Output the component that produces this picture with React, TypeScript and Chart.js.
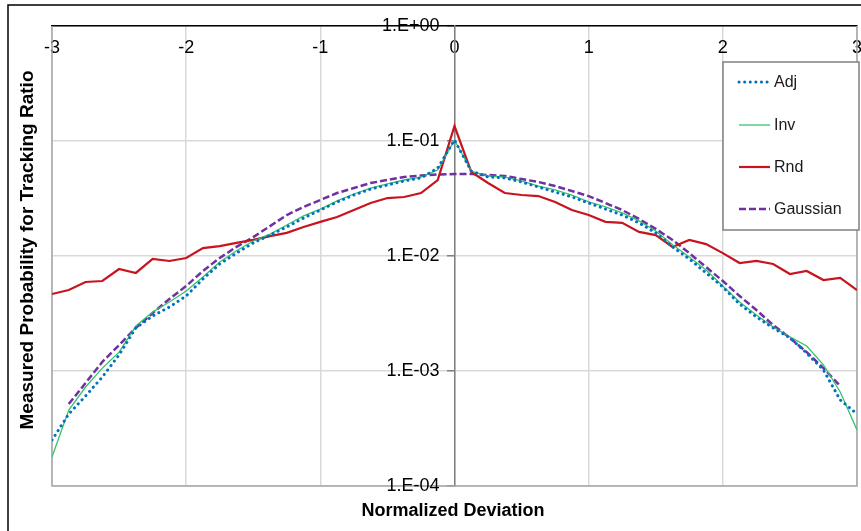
import React, { useEffect, useRef } from 'react';
import { Chart, registerables } from 'chart.js';

Chart.register(...registerables);

const W = 861;
const H = 531;
const FONT = '"Liberation Sans", Arial, sans-serif';

const xValues = [
  -3, -2.875, -2.75, -2.625, -2.5, -2.375, -2.25, -2.125, -2, -1.875, -1.75, -1.625, -1.5,
  -1.375, -1.25, -1.125, -1, -0.875, -0.75, -0.625, -0.5, -0.375, -0.25, -0.125, 0,
  0.125, 0.25, 0.375, 0.5, 0.625, 0.75, 0.875, 1, 1.125, 1.25, 1.375, 1.5, 1.625, 1.75,
  1.875, 2, 2.125, 2.25, 2.375, 2.5, 2.625, 2.75, 2.875, 3,
];

const adjValues = [
  2.51e-4, 4.23e-4, 6.06e-4, 8.87e-4, 1.38e-3, 2.37e-3, 3.01e-3, 3.6e-3, 4.49e-3, 6.31e-3,
  8.52e-3, 1.06e-2, 1.3e-2, 1.52e-2, 1.79e-2, 2.14e-2, 2.51e-2, 2.95e-2, 3.39e-2, 3.82e-2,
  4.14e-2, 4.49e-2, 4.77e-2, 5.82e-2, 0.102,
  5.48e-2, 4.86e-2, 4.77e-2, 4.4e-2, 3.98e-2, 3.6e-2, 3.26e-2, 2.89e-2, 2.56e-2, 2.27e-2,
  1.94e-2, 1.59e-2, 1.2e-2, 9.42e-3, 7.12e-3, 5.38e-3, 3.82e-3, 2.95e-3, 2.37e-3, 1.94e-3,
  1.43e-3, 1.02e-3, 5.6e-4, 4.23e-4,
];

const invValues = [
  1.79e-4, 4.58e-4, 7.26e-4, 1.06e-3, 1.46e-3, 2.46e-3, 3.26e-3, 3.98e-3, 4.96e-3, 6.57e-3,
  8.87e-3, 1.11e-2, 1.35e-2, 1.55e-2, 1.86e-2, 2.23e-2, 2.56e-2, 3.01e-2, 3.46e-2, 3.9e-2,
  4.23e-2, 4.58e-2, 4.86e-2, 5.6e-2, 0.102,
  5.48e-2, 4.96e-2, 4.86e-2, 4.49e-2, 4.06e-2, 3.75e-2, 3.39e-2, 2.95e-2, 2.67e-2, 2.37e-2,
  2.02e-2, 1.65e-2, 1.25e-2, 9.8e-3, 7.55e-3, 5.48e-3, 3.98e-3, 3.07e-3, 2.41e-3, 1.98e-3,
  1.65e-3, 1.13e-3, 6.57e-4, 3.07e-4,
];

const rndValues = [
  4.67e-3, 5.06e-3, 5.94e-3, 6.06e-3, 7.71e-3, 7.12e-3, 9.42e-3, 9.05e-3, 9.61e-3, 1.17e-2,
  1.22e-2, 1.3e-2, 1.38e-2, 1.49e-2, 1.59e-2, 1.79e-2, 1.98e-2, 2.18e-2, 2.51e-2, 2.89e-2,
  3.19e-2, 3.26e-2, 3.53e-2, 4.58e-2, 0.135,
  5.38e-2, 4.31e-2, 3.53e-2, 3.39e-2, 3.32e-2, 2.95e-2, 2.51e-2, 2.27e-2, 1.98e-2, 1.94e-2,
  1.62e-2, 1.52e-2, 1.2e-2, 1.38e-2, 1.27e-2, 1.06e-2, 8.69e-3, 9.05e-3, 8.52e-3, 6.97e-3,
  7.41e-3, 6.18e-3, 6.44e-3, 5.06e-3,
];

const gaussianValues = [
  null, 5.16e-4, 7.86e-4, 1.2e-3, 1.68e-3, 2.37e-3, 3.19e-3, 4.23e-3, 5.48e-3, 7.41e-3,
  9.61e-3, 1.2e-2, 1.46e-2, 1.82e-2, 2.27e-2, 2.67e-2, 3.07e-2, 3.53e-2, 3.9e-2, 4.31e-2,
  4.58e-2, 4.86e-2, 5.01e-2, 5.11e-2, 5.16e-2,
  5.16e-2, 5.06e-2, 4.96e-2, 4.67e-2, 4.4e-2, 4.06e-2, 3.67e-2, 3.32e-2, 2.89e-2, 2.51e-2,
  2.1e-2, 1.72e-2, 1.38e-2, 1.06e-2, 8.02e-3, 6.06e-3, 4.49e-3, 3.39e-3, 2.51e-3, 1.94e-3,
  1.46e-3, 1.06e-3, 7.41e-4, null,
];

const seriesNames = ['Adj', 'Inv', 'Rnd', 'Gaussian'];
const xTicks = [-3, -2, -1, 0, 1, 2, 3];
const xTickLabels = ['-3', '-2', '-1', '0', '1', '2', '3'];
const yTicks = [1e-4, 1e-3, 1e-2, 1e-1, 1];
const yTickLabels = ['1.E-04', '1.E-03', '1.E-02', '1.E-01', '1.E+00'];
const xTitle = 'Normalized Deviation';
const yTitle = 'Measured Probability for Tracking Ratio';

const seriesStyles = [
  { color: '#0070C0', width: 3, dash: [0.1, 5.5], cap: 'round' },
  { color: '#33C46E', width: 1.3, dash: [], cap: 'butt' },
  { color: '#C8141E', width: 2.2, dash: [], cap: 'butt' },
  { color: '#7030A0', width: 2.5, dash: [7, 3], cap: 'butt' },
];

const toPoints = (vals: (number | null)[]) => xValues.map((x, i) => ({ x, y: vals[i] }));

const noPad = (s: any) => {
  s.paddingLeft = 0;
  s.paddingRight = 0;
  s.paddingTop = 0;
  s.paddingBottom = 0;
};

const framePlugin = {
  id: 'frame',
  beforeDraw(chart: any) {
    const ctx = chart.ctx;
    ctx.save();
    ctx.fillStyle = '#ffffff';
    ctx.fillRect(0, 0, chart.width, chart.height);
    ctx.strokeStyle = '#000000';
    ctx.lineWidth = 1.5;
    ctx.beginPath();
    ctx.moveTo(8, chart.height);
    ctx.lineTo(8, 5);
    ctx.lineTo(chart.width, 5);
    ctx.stroke();
    ctx.restore();
  },
  beforeDatasetsDraw(chart: any) {
    const { ctx, chartArea: a } = chart;
    ctx.save();
    ctx.strokeStyle = '#A6A6A6';
    ctx.lineWidth = 1.5;
    ctx.beginPath();
    ctx.moveTo(a.left, a.top);
    ctx.lineTo(a.left, a.bottom);
    ctx.lineTo(a.right, a.bottom);
    ctx.lineTo(a.right, a.top);
    ctx.stroke();
    // y tick labels, placed left of the centred y axis
    const xs = chart.scales.x;
    const ys = chart.scales.y;
    const axisX = xs.getPixelForValue(0);
    ctx.fillStyle = '#000000';
    ctx.font = `18px ${FONT}`;
    ctx.textAlign = 'right';
    ctx.textBaseline = 'middle';
    yTicks.forEach((v, i) => {
      ctx.fillText(yTickLabels[i], axisX - 15, ys.getPixelForValue(v));
    });
    ctx.restore();
  },
  afterDatasetsDraw(chart: any) {
    const ctx = chart.ctx;
    ctx.save();
    const lx = 723, ly = 62, lw = 136, lh = 168;
    ctx.fillStyle = '#ffffff';
    ctx.fillRect(lx, ly, lw, lh);
    ctx.strokeStyle = '#808080';
    ctx.lineWidth = 1.5;
    ctx.strokeRect(lx, ly, lw, lh);
    const rows = [82, 125, 167, 209];
    seriesNames.forEach((name, i) => {
      const s = seriesStyles[i];
      ctx.beginPath();
      ctx.strokeStyle = s.color;
      ctx.lineWidth = s.width;
      ctx.setLineDash(s.dash);
      ctx.lineCap = s.cap;
      ctx.moveTo(739, rows[i]);
      ctx.lineTo(770, rows[i]);
      ctx.stroke();
      ctx.setLineDash([]);
      ctx.lineCap = 'butt';
      ctx.fillStyle = '#1a1a1a';
      ctx.font = `16px ${FONT}`;
      ctx.textAlign = 'left';
      ctx.textBaseline = 'middle';
      ctx.fillText(name, 774, rows[i] + 1);
    });
    ctx.restore();
  },
  afterDraw(chart: any) {
    const ctx = chart.ctx;
    ctx.save();
    ctx.fillStyle = '#000000';
    ctx.font = `bold 18px ${FONT}`;
    ctx.textAlign = 'center';
    ctx.textBaseline = 'middle';
    ctx.fillText(xTitle, 453, 511);
    ctx.translate(28, 250);
    ctx.rotate(-Math.PI / 2);
    ctx.font = `bold 19px ${FONT}`;
    ctx.fillText(yTitle, 0, 0);
    ctx.restore();
  },
};

export default function App() {
  const ref = useRef<HTMLCanvasElement | null>(null);

  useEffect(() => {
    document.body.style.margin = '0';
    const canvas = ref.current;
    if (!canvas) return;
    const datasets = [adjValues, invValues, rndValues, gaussianValues].map((vals, i) => ({
      label: seriesNames[i],
      data: toPoints(vals),
      borderColor: seriesStyles[i].color,
      backgroundColor: seriesStyles[i].color,
      borderWidth: seriesStyles[i].width,
      borderDash: seriesStyles[i].dash,
      borderCapStyle: seriesStyles[i].cap,
      pointRadius: 0,
      pointHoverRadius: 0,
      tension: 0,
      fill: false,
      spanGaps: false,
    }));
    const chart = new Chart(canvas, {
      type: 'line',
      data: { datasets },
      options: {
        animation: false,
        responsive: false,
        devicePixelRatio: 1,
        layout: { padding: { left: 52, top: 26, right: 4, bottom: 45 } },
        plugins: { legend: { display: false }, tooltip: { enabled: false } },
        scales: {
          x: {
            type: 'linear',
            min: -3,
            max: 3,
            position: { y: 1 },
            afterBuildTicks: (s: any) => {
              s.ticks = xTicks.map((v) => ({ value: v }));
            },
            afterFit: noPad,
            ticks: {
              callback: (v: any) => {
                const i = xTicks.indexOf(Number(v));
                return i >= 0 ? xTickLabels[i] : '';
              },
              font: { family: FONT, size: 18 },
              color: '#000000',
              padding: 11,
              maxRotation: 0,
              autoSkip: false,
            },
            grid: { color: '#D9D9D9', lineWidth: 1.5, drawTicks: false },
            border: { color: '#000000', width: 1.5 },
          },
          y: {
            type: 'logarithmic',
            min: 1e-4,
            max: 1,
            position: { x: 0 },
            afterBuildTicks: (s: any) => {
              s.ticks = yTicks.map((v) => ({ value: v }));
            },
            afterFit: noPad,
            ticks: { display: false },
            grid: { color: '#D9D9D9', lineWidth: 1.5, drawTicks: true, tickLength: 7, tickColor: '#808080' },
            border: { color: '#808080', width: 1.5 },
          },
        },
      },
      plugins: [framePlugin],
    } as any);
    return () => chart.destroy();
  }, []);

  return (
    <div style={{ position: 'absolute', left: 0, top: 0, width: W, height: H, background: '#fff' }}>
      <canvas ref={ref} width={W} height={H} style={{ width: W, height: H, display: 'block' }} />
    </div>
  );
}
